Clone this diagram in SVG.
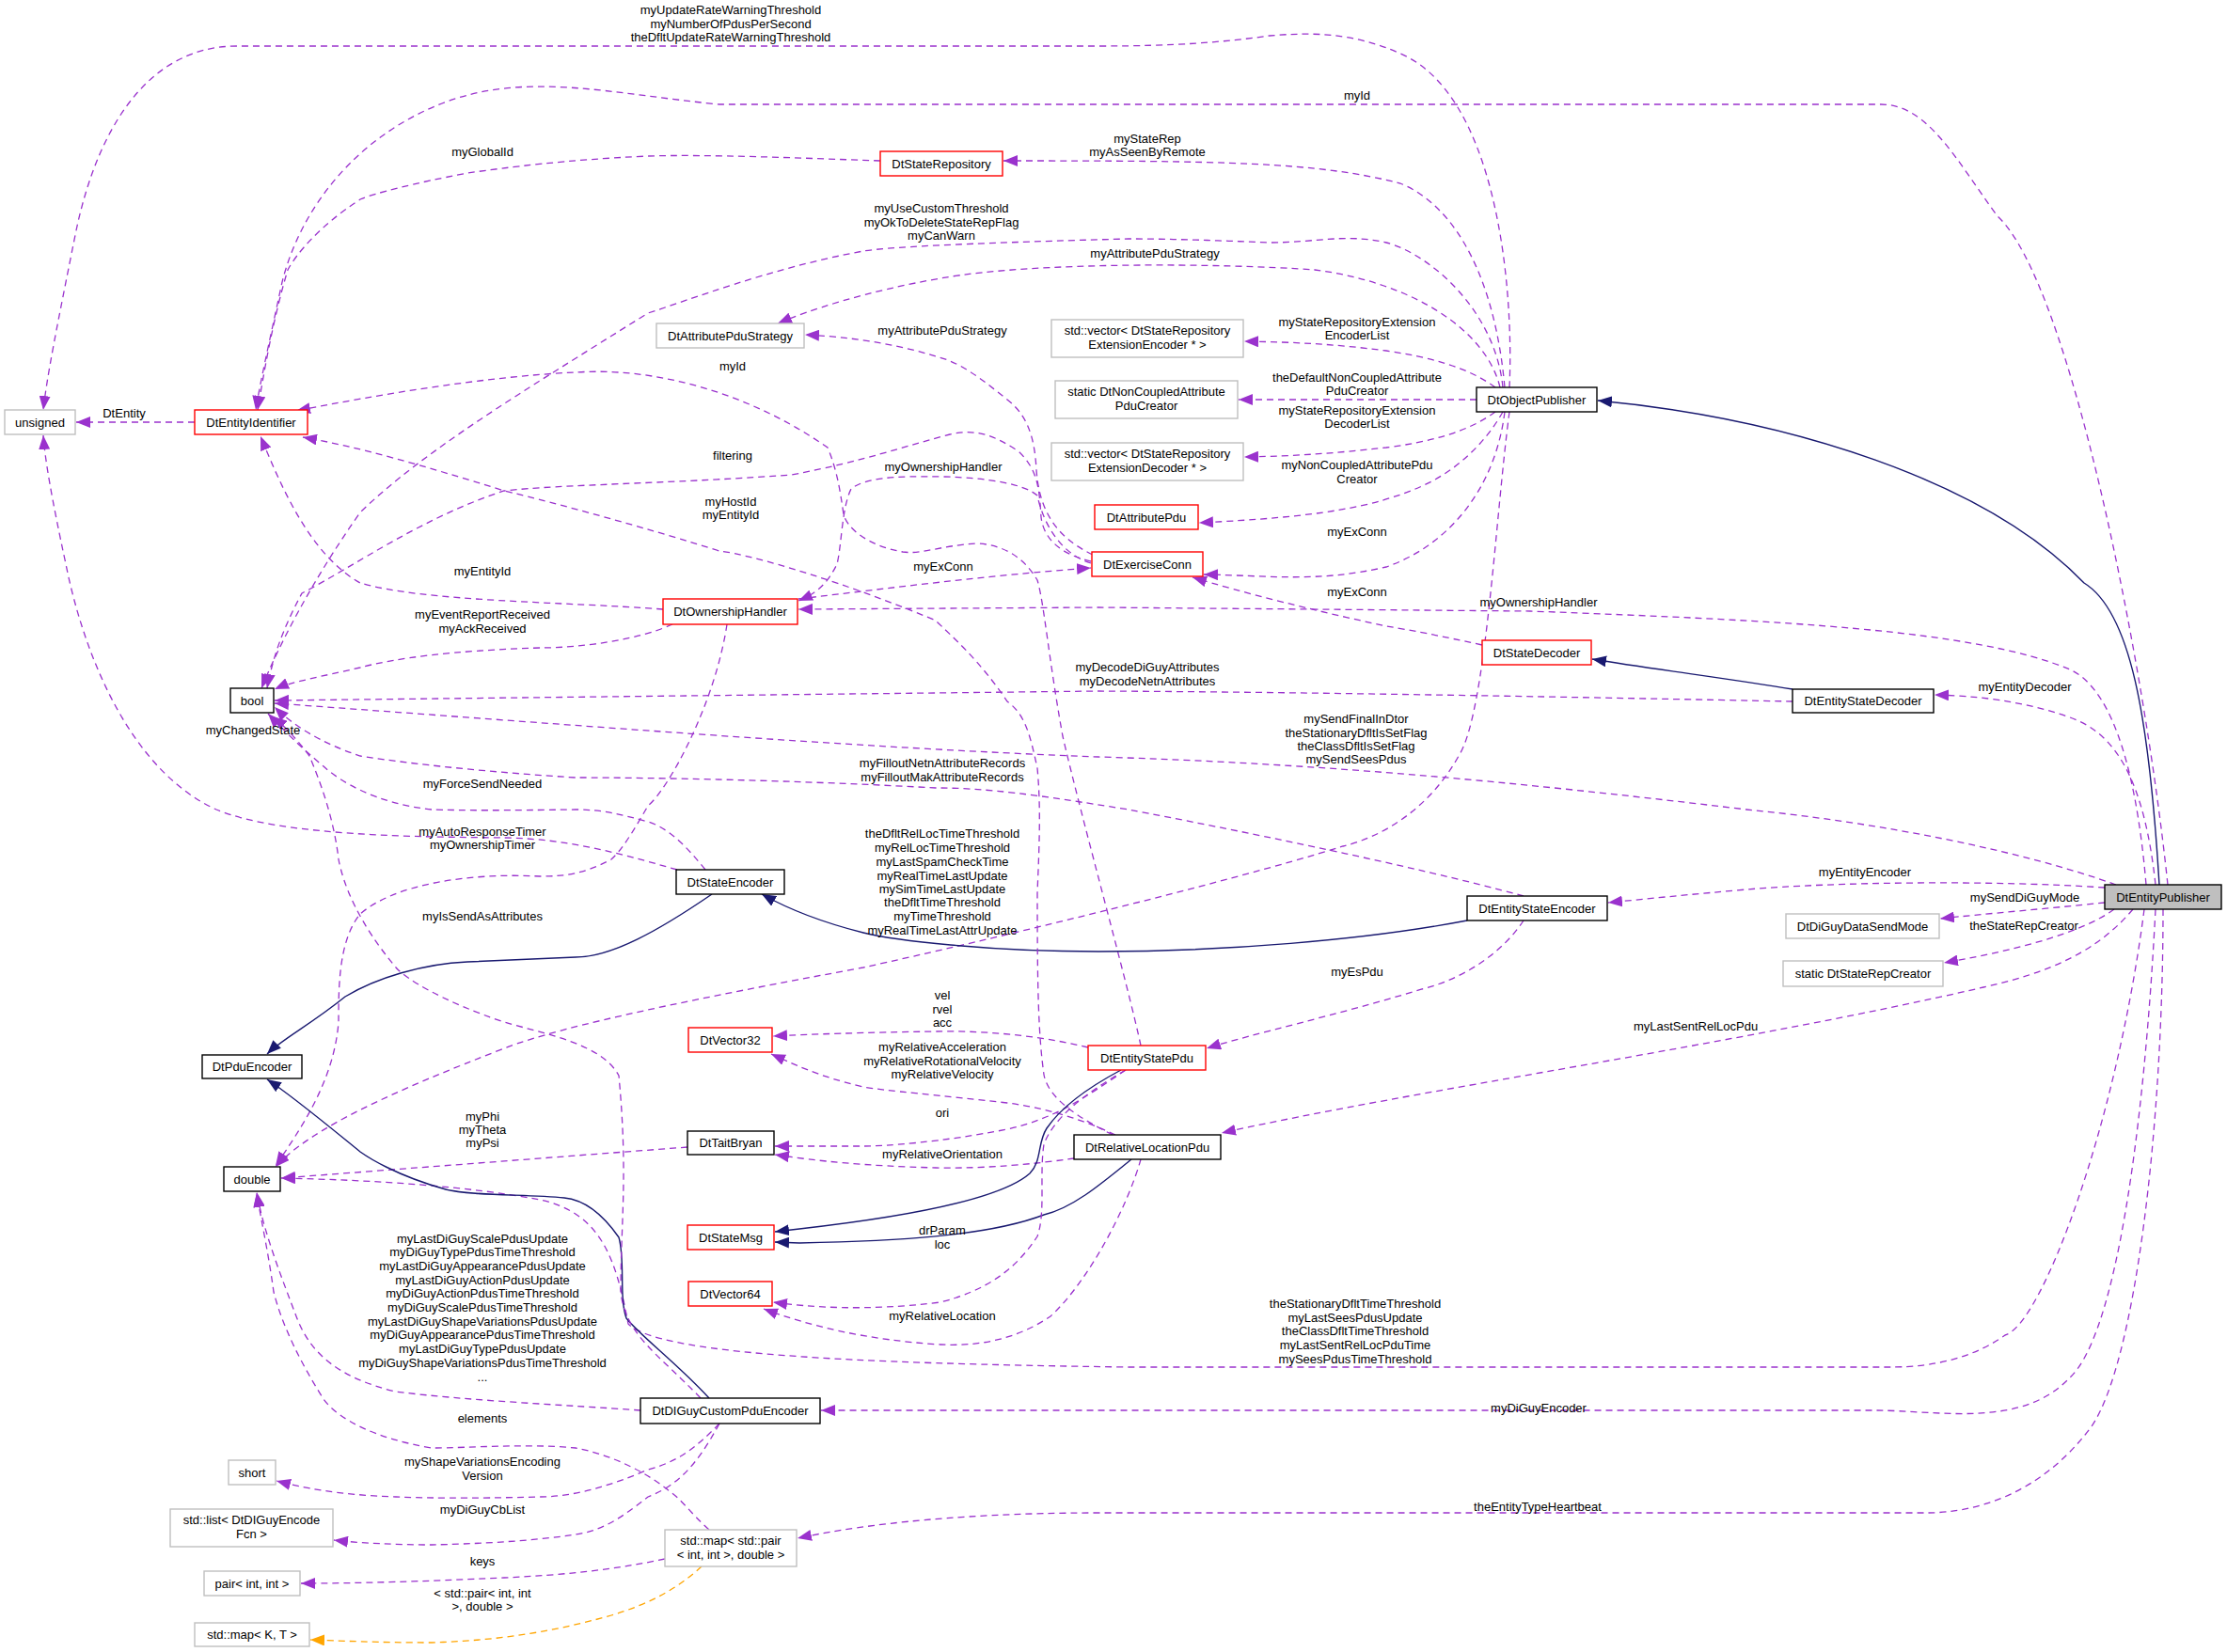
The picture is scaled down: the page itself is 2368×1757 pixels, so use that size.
<svg xmlns="http://www.w3.org/2000/svg" width="2368" height="1757" viewBox="0 0 2368 1757">
<style>
text{font-family:"Liberation Sans",Arial,sans-serif;font-size:13px;fill:#000;text-anchor:middle}
.n{fill:#fff;stroke-width:1.4}
.k{stroke:#000}.rd{stroke:#ff0000}.gy{stroke:#bfbfbf}
.d{fill:none;stroke:#9a32cd;stroke-width:1.3;stroke-dasharray:7,5;marker-end:url(#ap)}
.s{fill:none;stroke:#191970;stroke-width:1.4;marker-end:url(#an)}
.o{fill:none;stroke:#ffa500;stroke-width:1.3;stroke-dasharray:7,5;marker-end:url(#ao)}
</style>
<defs>
<marker id="ap" markerWidth="16" markerHeight="12" refX="15" refY="6" orient="auto" markerUnits="userSpaceOnUse"><path d="M0,0L15,6L0,12z" fill="#9a32cd"/></marker>
<marker id="an" markerWidth="16" markerHeight="12" refX="15" refY="6" orient="auto" markerUnits="userSpaceOnUse"><path d="M0,0L15,6L0,12z" fill="#191970"/></marker>
<marker id="ao" markerWidth="16" markerHeight="12" refX="15" refY="6" orient="auto" markerUnits="userSpaceOnUse"><path d="M0,0L15,6L0,12z" fill="#ffa500"/></marker>
</defs>
<rect width="2368" height="1757" fill="#fff"/>
<g id="edges">
<path class="s" d="M2296,941 C2285,760 2265,650 2216,620 C2110,510 1900,445 1699,426"/>
<path class="d" d="M2238,944 C2120,936 1950,938 1857,946 C1800,951 1750,956 1710,960"/>
<path class="d" d="M2238,960 C2180,966 2110,972 2063,977"/>
<path class="d" d="M2248,967 C2210,995 2130,1013 2067,1024"/>
<path class="d" d="M2268,967 C2240,1000 2200,1030 2109,1050 C1850,1110 1500,1160 1299,1205"/>
<path class="d" d="M2292,967 C2280,1200 2250,1420 2201,1465 C2150,1520 2060,1500 1994,1500 L873,1500"/>
<path class="d" d="M2300,967 C2300,1200 2270,1450 2224,1517 C2170,1590 2100,1609 2048,1609 L1168,1609 C1000,1609 900,1625 848,1636"/>
<path class="d" d="M2280,967 C2250,1200 2170,1410 2132,1420 C2090,1450 2040,1454 2010,1454 L1200,1454 C900,1450 700,1440 668,1408 C655,1340 640,1290 574,1276 C500,1262 400,1255 299,1253"/>
<path class="d" d="M2250,941 C2150,905 2000,875 1857,861 C1600,830 1400,812 1168,805 C900,795 600,770 292,748"/>
<path class="d" d="M2282,941 C2270,800 2240,730 2201,712 C2100,670 1900,660 1627,650 L1168,646 L849,648"/>
<path class="d" d="M2292,941 C2280,830 2250,780 2201,763 C2150,745 2100,740 2057,739"/>
<path class="d" d="M2305,941 C2280,700 2200,300 2124,230 C2080,170 2050,111 2000,111 L765,111 C650,100 560,75 470,110 C380,145 320,220 300,300 C285,370 276,410 272,436"/>
<path class="d" d="M1605,412 C1610,300 1590,100 1489,57 C1440,35 1398,34 1350,38 C1300,45 1250,49 1168,49 L252,49 C150,49 100,150 80,250 C60,350 50,400 46,436"/>
<path class="d" d="M1600,412 C1590,300 1550,220 1489,195 C1400,172 1300,171 1067,171"/>
<path class="d" d="M1598,412 C1590,330 1520,270 1474,258 C1430,248 1400,258 1350,258 C1300,256 1250,254 1200,254 C1050,258 950,262 918,267 C820,285 730,320 689,333 C550,420 450,480 383,545 C330,620 295,690 278,732"/>
<path class="d" d="M1595,412 C1580,350 1500,300 1398,287 C1300,280 1100,278 1000,296 C920,310 860,330 827,344"/>
<path class="d" d="M1590,412 C1560,390 1520,380 1474,373 C1420,366 1380,364 1323,363"/>
<path class="d" d="M1570,425 L1317,425"/>
<path class="d" d="M1590,438 C1560,460 1520,470 1474,476 C1420,482 1380,485 1323,486"/>
<path class="d" d="M1598,438 C1580,470 1550,500 1512,517 C1460,540 1400,550 1275,556"/>
<path class="d" d="M1600,438 C1590,520 1540,580 1474,603 C1400,620 1350,612 1280,611"/>
<path class="d" d="M1605,438 C1590,550 1580,760 1551,804 C1520,860 1470,890 1428,900 C1300,940 1050,1000 918,1029 C750,1060 600,1090 536,1115 C420,1160 330,1200 293,1241"/>
<path class="d" d="M1213,1112 C1200,1050 1150,870 1130,783 C1115,700 1110,640 1103,617 C1090,595 1070,580 1040,578 C1000,580 980,590 960,587 C920,580 900,560 897,547 C893,520 890,500 880,476 C800,420 700,390 612,396 C520,400 400,420 315,437"/>
<path class="d" d="M1160,597 C1130,590 1110,575 1107,550 C1105,520 1104,500 1083,480 C1060,465 1040,455 1010,462 C960,475 920,490 842,505 C700,515 600,515 536,522 C450,550 380,600 321,631 C300,670 290,700 284,732"/>
<path class="d" d="M1162,590 C1120,570 1105,540 1102,500 C1100,460 1090,440 1071,425 C1040,400 1020,385 995,379 C950,365 900,358 856,356"/>
<path class="d" d="M1160,599 C1130,590 1110,560 1103,527 C1090,515 1050,508 1003,507 C950,506 920,508 905,520 C895,540 895,580 890,600 C880,620 870,630 849,639"/>
<path class="d" d="M849,637 C950,625 1050,612 1160,604"/>
<path class="d" d="M1576,686 C1530,676 1500,670 1474,666 C1400,650 1320,630 1268,614"/>
<path class="s" d="M1906,733 C1840,722 1760,712 1693,701"/>
<path class="d" d="M1906,746 C1700,742 1400,736 1168,735 L292,745"/>
<path class="d" d="M705,648 C600,640 450,640 383,620 C330,590 300,520 277,464"/>
<path class="d" d="M715,664 C680,680 620,689 574,689 C480,692 420,700 383,710 C340,720 310,725 292,733"/>
<path class="d" d="M773,664 C760,750 710,840 689,857 C670,890 660,905 650,914 C620,930 600,932 574,932 C500,928 420,940 383,972 C360,1000 360,1050 360,1087 C355,1150 320,1200 293,1240"/>
<path class="d" d="M720,925 C650,905 600,892 536,891 C450,890 300,890 230,861 C140,820 90,700 70,600 C55,530 48,490 46,463"/>
<path class="d" d="M750,925 C730,900 710,880 689,874 C660,866 640,861 612,861 C540,862 490,862 459,861 C400,855 360,830 344,815 C320,795 300,775 285,759"/>
<path class="s" d="M757,951 C700,990 650,1018 612,1018 L497,1023 C450,1025 400,1040 367,1060 C330,1090 300,1105 284,1121"/>
<path class="s" d="M1560,979 C1450,1000 1300,1012 1168,1012 C1050,1012 950,1000 918,992 C870,980 835,965 810,951"/>
<path class="d" d="M1620,953 C1500,920 1300,880 1200,861 C1100,845 1050,838 995,838 C850,830 700,827 612,827 C500,820 420,810 383,804 C340,790 310,770 292,752"/>
<path class="d" d="M1620,979 C1600,1010 1560,1040 1512,1052 C1420,1080 1330,1100 1283,1115"/>
<path class="d" d="M1157,1114 C1100,1100 1040,1096 995,1097 C920,1098 860,1100 822,1102"/>
<path class="d" d="M1186,1207 C1150,1190 1110,1178 1071,1173 C1000,1165 940,1160 918,1156 C870,1145 840,1130 820,1121"/>
<path class="d" d="M1197,1138 C1150,1170 1120,1190 1071,1201 C1000,1215 940,1219 918,1219 L824,1219"/>
<path class="d" d="M1142,1232 C1100,1238 1050,1243 995,1242 C920,1240 870,1235 824,1228"/>
<path class="d" d="M731,1220 L299,1253"/>
<path class="s" d="M1192,1138 C1160,1155 1130,1175 1113,1200 C1103,1215 1108,1235 1095,1248 C1070,1270 1000,1290 850,1307 L824,1310"/>
<path class="s" d="M1203,1233 C1170,1260 1140,1285 1110,1292 C1050,1315 950,1320 850,1322 L824,1321"/>
<path class="d" d="M1197,1138 C1150,1165 1120,1190 1110,1217 C1105,1250 1112,1290 1103,1315 C1080,1350 1050,1372 1000,1385 C920,1395 860,1390 822,1385"/>
<path class="d" d="M1183,1207 C1150,1190 1115,1170 1110,1143 C1104,1100 1103,1050 1103,950 C1105,900 1107,860 1103,817 C1095,780 1090,760 1071,746 C1040,700 1010,675 995,660 C900,620 800,590 765,586 C650,550 550,525 536,522 C450,495 380,475 322,465"/>
<path class="d" d="M1213,1233 C1200,1280 1160,1360 1117,1400 C1080,1425 1040,1432 1000,1430 C920,1425 860,1410 812,1392"/>
<path class="s" d="M754,1487 C720,1450 680,1420 666,1402 C658,1380 665,1340 658,1316 C640,1290 620,1276 600,1274 C560,1270 500,1272 474,1265 C420,1250 390,1230 383,1225 C340,1190 310,1165 284,1148"/>
<path class="d" d="M681,1500 C600,1494 500,1490 420,1480 C360,1465 330,1440 315,1400 C300,1360 280,1310 273,1268"/>
<path class="d" d="M745,1487 C700,1440 665,1420 660,1374 C660,1300 668,1250 658,1144 C640,1110 580,1100 536,1087 C470,1065 430,1040 421,1029 C380,980 365,940 360,914 C355,870 340,830 329,804 C315,785 300,770 290,762"/>
<path class="d" d="M765,1514 C740,1540 720,1555 689,1563 C650,1580 610,1592 574,1592 C500,1594 440,1593 421,1592 C360,1590 320,1582 294,1575"/>
<path class="d" d="M765,1514 C740,1560 720,1580 689,1592 C660,1615 640,1628 612,1632 C560,1640 500,1642 459,1643 C420,1643 380,1641 355,1638"/>
<path class="d" d="M754,1627 C735,1610 725,1595 712,1586 C680,1560 640,1545 612,1540 C560,1535 500,1540 459,1540 C400,1530 360,1510 344,1488 C320,1450 300,1410 291,1374 C285,1330 278,1300 273,1269"/>
<path class="d" d="M707,1658 C650,1670 600,1675 536,1678 C450,1682 380,1684 320,1684"/>
<path class="o" d="M746,1666 C720,1690 690,1706 650,1718 C580,1738 520,1745 459,1747 C400,1747 360,1745 330,1744"/>
<path class="d" d="M207,449 L81,449"/>
<path class="d" d="M936,171 C850,168 750,164 689,166 C600,170 540,178 497,184 C440,195 400,205 383,212 C340,240 315,270 306,287 C290,340 280,400 274,436"/>
</g>
<g id="labels">
<text x="132" y="444">DtEntity</text>
<text x="513" y="166">myGlobalId</text>
<text x="777" y="15">myUpdateRateWarningThreshold</text>
<text x="777" y="30">myNumberOfPdusPerSecond</text>
<text x="777" y="44">theDfltUpdateRateWarningThreshold</text>
<text x="1443" y="106">myId</text>
<text x="1220" y="152">myStateRep</text>
<text x="1220" y="166">myAsSeenByRemote</text>
<text x="1001" y="226">myUseCustomThreshold</text>
<text x="1001" y="241">myOkToDeleteStateRepFlag</text>
<text x="1001" y="255">myCanWarn</text>
<text x="1228" y="274">myAttributePduStrategy</text>
<text x="1002" y="356">myAttributePduStrategy</text>
<text x="779" y="394">myId</text>
<text x="779" y="489">filtering</text>
<text x="1003" y="501">myOwnershipHandler</text>
<text x="777" y="538">myHostId</text>
<text x="777" y="552">myEntityId</text>
<text x="1003" y="607">myExConn</text>
<text x="513" y="612">myEntityId</text>
<text x="513" y="658">myEventReportReceived</text>
<text x="513" y="673">myAckReceived</text>
<text x="269" y="781">myChangedState</text>
<text x="513" y="838">myForceSendNeeded</text>
<text x="513" y="889">myAutoResponseTimer</text>
<text x="513" y="903">myOwnershipTimer</text>
<text x="513" y="979">myIsSendAsAttributes</text>
<text x="1443" y="347">myStateRepositoryExtension</text>
<text x="1443" y="361">EncoderList</text>
<text x="1443" y="406">theDefaultNonCoupledAttribute</text>
<text x="1443" y="420">PduCreator</text>
<text x="1443" y="441">myStateRepositoryExtension</text>
<text x="1443" y="455">DecoderList</text>
<text x="1443" y="499">myNonCoupledAttributePdu</text>
<text x="1443" y="514">Creator</text>
<text x="1443" y="570">myExConn</text>
<text x="1443" y="634">myExConn</text>
<text x="1636" y="645">myOwnershipHandler</text>
<text x="1220" y="714">myDecodeDiGuyAttributes</text>
<text x="1220" y="729">myDecodeNetnAttributes</text>
<text x="2153" y="735">myEntityDecoder</text>
<text x="1442" y="769">mySendFinalInDtor</text>
<text x="1442" y="784">theStationaryDfltIsSetFlag</text>
<text x="1442" y="798">theClassDfltIsSetFlag</text>
<text x="1442" y="812">mySendSeesPdus</text>
<text x="1002" y="816">myFilloutNetnAttributeRecords</text>
<text x="1002" y="831">myFilloutMakAttributeRecords</text>
<text x="1002" y="891">theDfltRelLocTimeThreshold</text>
<text x="1002" y="906">myRelLocTimeThreshold</text>
<text x="1002" y="921">myLastSpamCheckTime</text>
<text x="1002" y="936">myRealTimeLastUpdate</text>
<text x="1002" y="950">mySimTimeLastUpdate</text>
<text x="1002" y="964">theDfltTimeThreshold</text>
<text x="1002" y="979">myTimeThreshold</text>
<text x="1002" y="994">myRealTimeLastAttrUpdate</text>
<text x="1983" y="932">myEntityEncoder</text>
<text x="2153" y="959">mySendDiGuyMode</text>
<text x="2152" y="989">theStateRepCreator</text>
<text x="1443" y="1038">myEsPdu</text>
<text x="1002" y="1063">vel</text>
<text x="1002" y="1078">rvel</text>
<text x="1002" y="1092">acc</text>
<text x="1002" y="1118">myRelativeAcceleration</text>
<text x="1002" y="1133">myRelativeRotationalVelocity</text>
<text x="1002" y="1147">myRelativeVelocity</text>
<text x="1002" y="1188">ori</text>
<text x="1002" y="1232">myRelativeOrientation</text>
<text x="1803" y="1096">myLastSentRelLocPdu</text>
<text x="513" y="1192">myPhi</text>
<text x="513" y="1206">myTheta</text>
<text x="513" y="1220">myPsi</text>
<text x="1002" y="1313">drParam</text>
<text x="1002" y="1328">loc</text>
<text x="1002" y="1404">myRelativeLocation</text>
<text x="513" y="1322">myLastDiGuyScalePdusUpdate</text>
<text x="513" y="1336">myDiGuyTypePdusTimeThreshold</text>
<text x="513" y="1351">myLastDiGuyAppearancePdusUpdate</text>
<text x="513" y="1366">myLastDiGuyActionPdusUpdate</text>
<text x="513" y="1380">myDiGuyActionPdusTimeThreshold</text>
<text x="513" y="1395">myDiGuyScalePdusTimeThreshold</text>
<text x="513" y="1410">myLastDiGuyShapeVariationsPdusUpdate</text>
<text x="513" y="1424">myDiGuyAppearancePdusTimeThreshold</text>
<text x="513" y="1439">myLastDiGuyTypePdusUpdate</text>
<text x="513" y="1454">myDiGuyShapeVariationsPdusTimeThreshold</text>
<text x="513" y="1469">...</text>
<text x="1441" y="1391">theStationaryDfltTimeThreshold</text>
<text x="1441" y="1406">myLastSeesPdusUpdate</text>
<text x="1441" y="1420">theClassDfltTimeThreshold</text>
<text x="1441" y="1435">myLastSentRelLocPduTime</text>
<text x="1441" y="1450">mySeesPdusTimeThreshold</text>
<text x="1636" y="1502">myDiGuyEncoder</text>
<text x="513" y="1513">elements</text>
<text x="513" y="1559">myShapeVariationsEncoding</text>
<text x="513" y="1574">Version</text>
<text x="1635" y="1607">theEntityTypeHeartbeat</text>
<text x="513" y="1610">myDiGuyCbList</text>
<text x="513" y="1665">keys</text>
<text x="513" y="1699">&lt; std::pair&lt; int, int</text>
<text x="513" y="1713">&gt;, double &gt;</text>
</g>
<g id="unsigned"><rect class="n gy" x="5" y="436" width="75" height="26"/><text x="42.5" y="453.5">unsigned</text></g>
<g id="DtEntityIdentifier"><rect class="n rd" x="207" y="436" width="120" height="26"/><text x="267" y="453.5">DtEntityIdentifier</text></g>
<g id="DtStateRepository"><rect class="n rd" x="936" y="161" width="130" height="26"/><text x="1001" y="178.5">DtStateRepository</text></g>
<g id="DtAttributePduStrategy"><rect class="n gy" x="698" y="344" width="157" height="26"/><text x="776.5" y="361.5">DtAttributePduStrategy</text></g>
<g id="vecEnc"><rect class="n gy" x="1118" y="340" width="204" height="40"/><text x="1220" y="356">std::vector&lt; DtStateRepository</text><text x="1220" y="371">ExtensionEncoder * &gt;</text></g>
<g id="nonCoupled"><rect class="n gy" x="1122" y="405" width="194" height="40"/><text x="1219" y="421">static DtNonCoupledAttribute</text><text x="1219" y="436">PduCreator</text></g>
<g id="vecDec"><rect class="n gy" x="1118" y="471" width="204" height="40"/><text x="1220" y="487">std::vector&lt; DtStateRepository</text><text x="1220" y="502">ExtensionDecoder * &gt;</text></g>
<g id="DtAttributePdu"><rect class="n rd" x="1164" y="537" width="110" height="26"/><text x="1219" y="554.5">DtAttributePdu</text></g>
<g id="DtExerciseConn"><rect class="n rd" x="1161" y="587" width="118" height="26"/><text x="1220" y="604.5">DtExerciseConn</text></g>
<g id="DtObjectPublisher"><rect class="n k" x="1570" y="412" width="128" height="26"/><text x="1634" y="429.5">DtObjectPublisher</text></g>
<g id="DtOwnershipHandler"><rect class="n rd" x="705" y="637" width="143" height="27"/><text x="776.5" y="655">DtOwnershipHandler</text></g>
<g id="DtStateDecoder"><rect class="n rd" x="1576" y="681" width="116" height="26"/><text x="1634" y="698.5">DtStateDecoder</text></g>
<g id="bool"><rect class="n k" x="245" y="732" width="46" height="26"/><text x="268" y="749.5">bool</text></g>
<g id="DtEntityStateDecoder"><rect class="n k" x="1906" y="733" width="150" height="25"/><text x="1981" y="750">DtEntityStateDecoder</text></g>
<g id="DtStateEncoder"><rect class="n k" x="719" y="925" width="115" height="26"/><text x="776.5" y="942.5">DtStateEncoder</text></g>
<g id="DtEntityStateEncoder"><rect class="n k" x="1560" y="953" width="149" height="26"/><text x="1634.5" y="970.5">DtEntityStateEncoder</text></g>
<g id="DtEntityPublisher"><rect x="2238" y="941" width="124" height="26" fill="#bfbfbf" stroke="#000" stroke-width="1.4"/><text x="2300" y="958.5">DtEntityPublisher</text></g>
<g id="DtDiGuyDataSendMode"><rect class="n gy" x="1899" y="972" width="163" height="26"/><text x="1980.5" y="989.5">DtDiGuyDataSendMode</text></g>
<g id="DtStateRepCreator"><rect class="n gy" x="1896" y="1022" width="170" height="27"/><text x="1981" y="1040">static DtStateRepCreator</text></g>
<g id="DtPduEncoder"><rect class="n k" x="215" y="1122" width="106" height="25"/><text x="268" y="1139">DtPduEncoder</text></g>
<g id="DtVector32"><rect class="n rd" x="732" y="1093" width="89" height="26"/><text x="776.5" y="1110.5">DtVector32</text></g>
<g id="DtEntityStatePdu"><rect class="n rd" x="1157" y="1112" width="125" height="26"/><text x="1219.5" y="1129.5">DtEntityStatePdu</text></g>
<g id="DtTaitBryan"><rect class="n k" x="731" y="1203" width="92" height="25"/><text x="777" y="1220">DtTaitBryan</text></g>
<g id="DtRelativeLocationPdu"><rect class="n k" x="1142" y="1207" width="156" height="26"/><text x="1220" y="1224.5">DtRelativeLocationPdu</text></g>
<g id="double"><rect class="n k" x="238" y="1241" width="60" height="26"/><text x="268" y="1258.5">double</text></g>
<g id="DtStateMsg"><rect class="n rd" x="731" y="1303" width="92" height="26"/><text x="777" y="1320.5">DtStateMsg</text></g>
<g id="DtVector64"><rect class="n rd" x="732" y="1363" width="89" height="26"/><text x="776.5" y="1380.5">DtVector64</text></g>
<g id="DtDIGuyCustomPduEncoder"><rect class="n k" x="681" y="1487" width="191" height="27"/><text x="776.5" y="1505">DtDIGuyCustomPduEncoder</text></g>
<g id="short"><rect class="n gy" x="243" y="1553" width="50" height="26"/><text x="268" y="1570.5">short</text></g>
<g id="stdlist"><rect class="n gy" x="181" y="1605" width="173" height="40"/><text x="267.5" y="1621">std::list&lt; DtDIGuyEncode</text><text x="267.5" y="1636">Fcn &gt;</text></g>
<g id="stdmappair"><rect class="n gy" x="707" y="1627" width="140" height="39"/><text x="777" y="1643">std::map&lt; std::pair</text><text x="777" y="1658">&lt; int, int &gt;, double &gt;</text></g>
<g id="pair"><rect class="n gy" x="217" y="1671" width="102" height="26"/><text x="268" y="1688.5">pair&lt; int, int &gt;</text></g>
<g id="stdmapKT"><rect class="n gy" x="207" y="1726" width="122" height="25"/><text x="268" y="1743">std::map&lt; K, T &gt;</text></g>
</svg>
